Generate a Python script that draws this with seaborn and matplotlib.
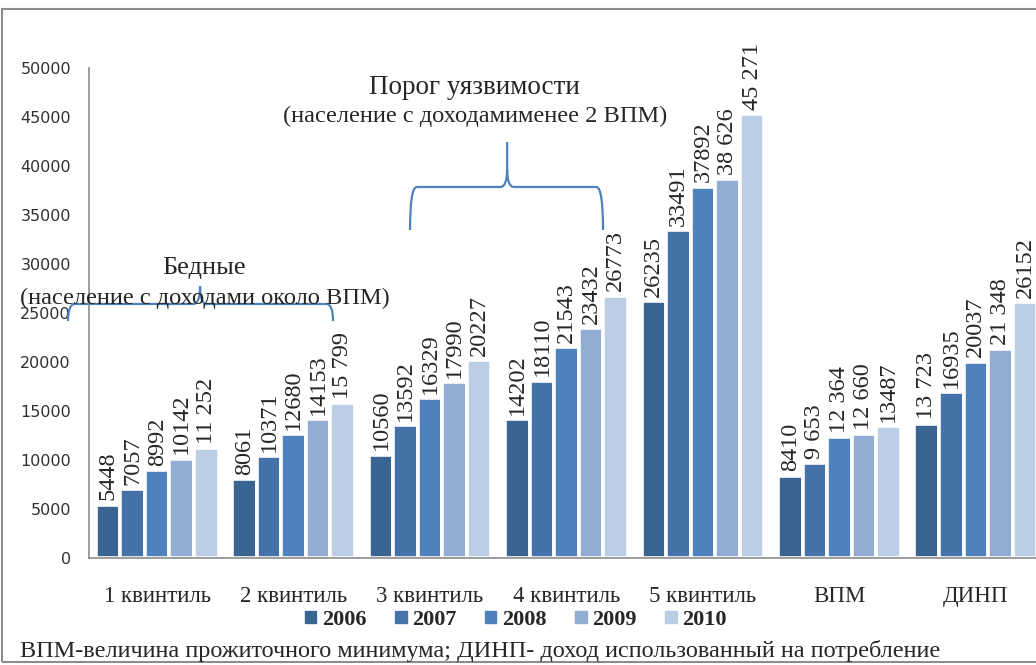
import numpy as np
import pandas as pd
import seaborn as sns
import matplotlib.pyplot as plt
from matplotlib.path import Path
from matplotlib.patches import PathPatch, Rectangle

# Data
categories = ["1 квинтиль", "2 квинтиль", "3 квинтиль", "4 квинтиль", "5 квинтиль", "ВПМ", "ДИНП"]
years = ["2006", "2007", "2008", "2009", "2010"]
v2006 = [5448, 8061, 10560, 14202, 26235, 8410, 13723]
v2007 = [7057, 10371, 13592, 18110, 33491, 9653, 16935]
v2008 = [8992, 12680, 16329, 21543, 37892, 12364, 20037]
v2009 = [10142, 14153, 17990, 23432, 38626, 12660, 21348]
v2010 = [11252, 15799, 20227, 26773, 45271, 13487, 26152]
lab2006 = ["5448", "8061", "10560", "14202", "26235", "8410", "13 723"]
lab2007 = ["7057", "10371", "13592", "18110", "33491", "9 653", "16935"]
lab2008 = ["8992", "12680", "16329", "21543", "37892", "12 364", "20037"]
lab2009 = ["10142", "14153", "17990", "23432", "38 626", "12 660", "21 348"]
lab2010 = ["11 252", "15 799", "20227", "26773", "45 271", "13487", "26152"]
colors = ["#3a6491", "#4672aa", "#4f81bd", "#93acd4", "#bccde6"]

series = [v2006, v2007, v2008, v2009, v2010]
labels = [lab2006, lab2007, lab2008, lab2009, lab2010]

df = pd.DataFrame({
    "cat": categories * len(years),
    "year": [y for y in years for _ in categories],
    "value": [v for s in series for v in s],
})

sns.set_style("white")
plt.rcParams["font.family"] = ["Liberation Serif", "DejaVu Serif"]

fig = plt.figure(figsize=(10.36, 6.65), dpi=100)
ax = fig.add_axes([89 / 1036, 107 / 665, 955 / 1036, 490 / 665])

sns.barplot(data=df, x="cat", y="value", hue="year", order=categories,
            hue_order=years, palette=colors, width=0.9, saturation=1,
            edgecolor="white", linewidth=2.6, legend=False, ax=ax)

for cont, labs in zip(ax.containers, labels):
    ax.bar_label(cont, labels=labs, rotation=90, padding=3, fontsize=17.5,
                 family="Liberation Serif")

ax.set_xlim(-0.5, 6.5)
ax.set_ylim(0, 50000)
ax.set_yticks(np.arange(0, 50001, 5000))
ax.set_xlabel("")
ax.set_ylabel("")
ax.tick_params(axis="y", length=0, pad=13, labelsize=11.5, labelcolor="#303030")
ax.tick_params(axis="x", length=0, pad=20, labelsize=16.5)
for t in ax.get_yticklabels():
    t.set_family("DejaVu Sans")
for s in ["top", "right"]:
    ax.spines[s].set_visible(False)
for s in ["left", "bottom"]:
    ax.spines[s].set_color("#8c8c8c")
    ax.spines[s].set_linewidth(1.2)

# legend
handles = [plt.Rectangle((0, 0), 1, 1, color=c) for c in colors]
fig.legend(handles, years, loc="center", bbox_to_anchor=(516 / 1036, 1 - 620 / 665),
           ncol=5, frameon=False, handlelength=0.5, handleheight=0.5,
           handletextpad=0.25, columnspacing=1.3,
           prop={"family": "Liberation Serif", "weight": "bold", "size": 16})


# curly braces (in data coords)
def brace(x0, x1, xc, y, y_end, y_tip, color="#4f81bd"):
    dx = 0.05
    dy = 1800
    verts = [(x0, y_end), (x0, y), (x0 + dx, y), (xc - dx, y), (xc, y), (xc, y + dy),
             (xc, y_tip), (xc, y + dy), (xc, y), (xc + dx, y), (x1 - dx, y), (x1, y),
             (x1, y_end)]
    codes = [Path.MOVETO, Path.CURVE3, Path.CURVE3, Path.LINETO, Path.CURVE3, Path.CURVE3,
             Path.LINETO, Path.MOVETO, Path.CURVE3, Path.CURVE3, Path.LINETO, Path.CURVE3,
             Path.CURVE3]
    ax.add_patch(PathPatch(Path(verts, codes), fill=False, edgecolor=color, lw=1.6,
                           clip_on=False))


brace(-0.654, 1.289, 0.314, 25920, 24180, 27750)
brace(1.853, 3.268, 2.565, 37860, 33470, 42450)

fig.text(204 / 1036, 1 - 268 / 665, "Бедные", ha="center", va="center", fontsize=19)
fig.text(205 / 1036, 1 - 298 / 665, "(население с доходами около ВПМ)", ha="center",
         va="center", fontsize=17.6)
fig.text(474 / 1036, 1 - 88 / 665, "Порог уязвимости", ha="center", va="center", fontsize=19.5)
fig.text(475 / 1036, 1 - 116 / 665, "(население с доходамименее 2 ВПМ)", ha="center",
         va="center", fontsize=17.6)

fig.text(20 / 1036, 1 - 651 / 665,
         "ВПМ-величина прожиточного минимума; ДИНП- доход использованный на потребление",
         ha="left", va="center", fontsize=17.5)

# outer frame
fig.patches.append(Rectangle((2 / 1036, 3 / 665), 1.2, 1 - 12 / 665, transform=fig.transFigure,
                             fill=False, edgecolor="#8c8c8c", lw=1.5))

fig.savefig("out.png", dpi=100)
